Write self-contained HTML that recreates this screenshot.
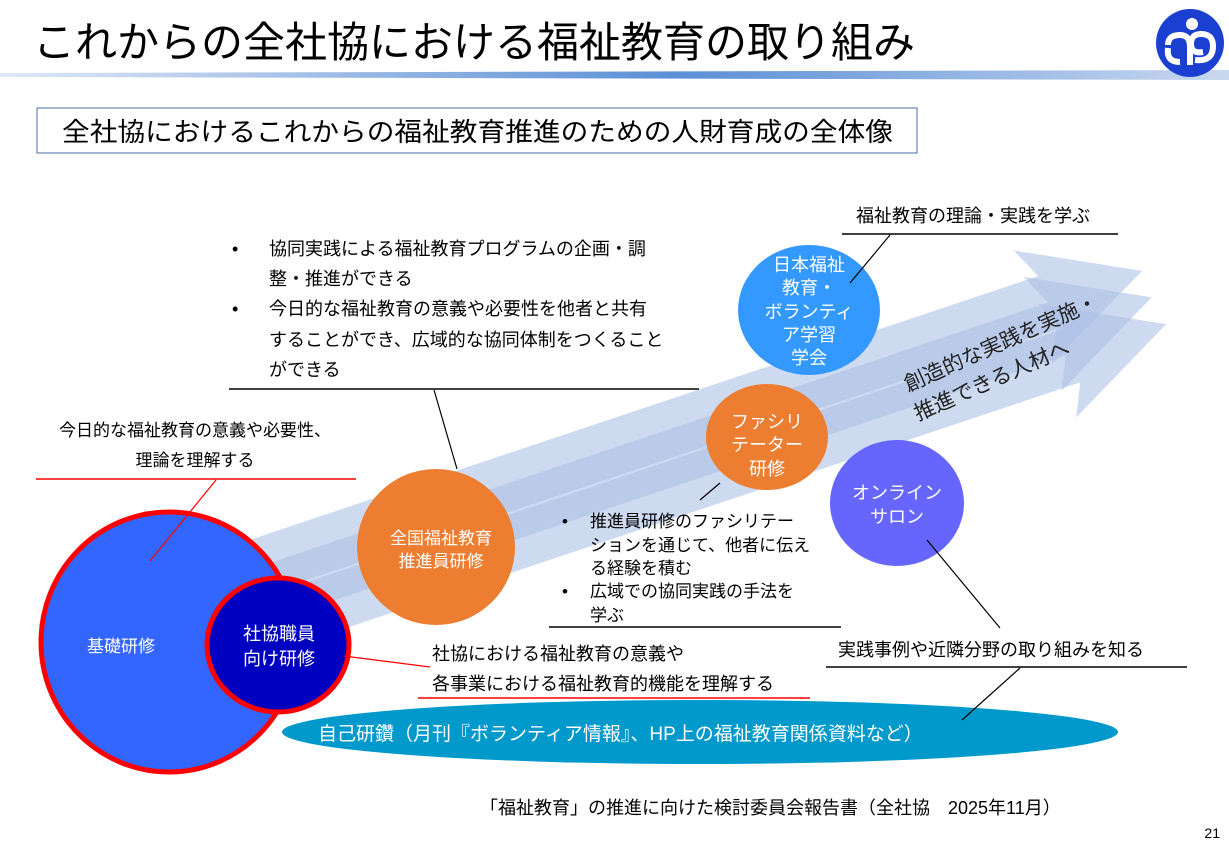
<!DOCTYPE html>
<html><head><meta charset="utf-8"><style>
html,body{margin:0;padding:0;background:#fff;}
svg{display:block;}
text{font-family:"Liberation Sans","Noto Sans CJK JP",sans-serif;}
</style></head><body>
<svg width="1229" height="856" viewBox="0 0 1229 856" xmlns="http://www.w3.org/2000/svg">
<defs>
<linearGradient id="tl" x1="0" x2="1" y1="0" y2="0">
<stop offset="0" stop-color="#dfe8f5"/><stop offset="0.55" stop-color="#5b8fd6"/><stop offset="1" stop-color="#c9d8ef"/>
</linearGradient>
</defs>
<text x="33" y="57" font-size="42" textLength="882" lengthAdjust="spacingAndGlyphs" fill="#000">これからの全社協における福祉教育の取り組み</text>
<polygon points="0,73 1229,70 1229,80 0,77" fill="url(#tl)"/>
<!-- logo -->
<circle cx="1190" cy="43" r="34" fill="#1a3fd1"/>
<circle cx="1192" cy="24" r="6" fill="#fff"/>
<path d="M1168 45 q0 -10 12 -10 q10 0 10 12 l0 18 M1168 48 q-2 14 12 14" stroke="#fff" stroke-width="6" fill="none"/>
<path d="M1195 60 q18 2 18 -14 q0 -12 -12 -12 q-10 0 -10 10 q0 10 12 8" stroke="#fff" stroke-width="6" fill="none"/>
<circle cx="1178" cy="52" r="3" fill="#1a3fd1"/>
<!-- subtitle -->
<rect x="37" y="108" width="880" height="45" fill="#fff" stroke="#4a6fa5" stroke-width="1"/>
<text x="62" y="141" font-size="26" textLength="831" lengthAdjust="spacingAndGlyphs">全社協におけるこれからの福祉教育推進のための人財育成の全体像</text>
<!-- arrows -->
<g fill="#aec2e6" fill-opacity="0.6">
<g transform="translate(260,566) rotate(-18.5)"><polygon points="0,-28 830,-28 815,-60 930,0 815,60 830,28 0,28"/></g>
<g transform="translate(265,594) rotate(-18.5)"><polygon points="0,-28 835,-28 820,-60 935,0 820,60 835,28 0,28"/></g>
<g transform="translate(270,624) rotate(-18.5)"><polygon points="0,-28 845,-28 830,-60 945,0 830,60 845,28 0,28"/></g>
</g>
<text transform="translate(908,392) rotate(-24)" font-size="21" fill="#222">創造的な実践を実施・</text>
<text transform="translate(918,421) rotate(-24)" font-size="21" fill="#222">推進できる人材へ</text>
<!-- cyan ellipse -->
<ellipse cx="700" cy="732" rx="418" ry="32" fill="#0099cc"/>
<text x="318" y="740" font-size="19" fill="#fff">自己研鑽（月刊『ボランティア情報』、HP上の福祉教育関係資料など）</text>
<!-- circles -->
<ellipse cx="169" cy="642" rx="128" ry="130" fill="#3366ff" stroke="#ff0000" stroke-width="5"/>
<text x="121" y="652" font-size="17" fill="#fff" text-anchor="middle">基礎研修</text>
<ellipse cx="278" cy="645" rx="71" ry="67" fill="#0000c0" stroke="#ff0000" stroke-width="5"/>
<text x="279" y="640" font-size="18" fill="#fff" text-anchor="middle">社協職員</text>
<text x="279" y="665" font-size="18" fill="#fff" text-anchor="middle">向け研修</text>
<ellipse cx="436" cy="547" rx="79" ry="78" fill="#ed7d31"/>
<text x="441" y="544" font-size="17" fill="#fff" text-anchor="middle">全国福祉教育</text>
<text x="441" y="567" font-size="17" fill="#fff" text-anchor="middle">推進員研修</text>
<ellipse cx="767" cy="437" rx="61" ry="53" fill="#ed7d31"/>
<text x="767" y="428" font-size="18" fill="#fff" text-anchor="middle">ファシリ</text>
<text x="767" y="451" font-size="18" fill="#fff" text-anchor="middle">テーター</text>
<text x="767" y="475" font-size="18" fill="#fff" text-anchor="middle">研修</text>
<ellipse cx="809" cy="310" rx="71" ry="65" fill="#3399ff"/>
<text x="809" y="271" font-size="18" fill="#fff" text-anchor="middle">日本福祉</text>
<text x="809" y="294" font-size="18" fill="#fff" text-anchor="middle">教育・</text>
<text x="809" y="318" font-size="18" fill="#fff" text-anchor="middle">ボランティ</text>
<text x="809" y="341" font-size="18" fill="#fff" text-anchor="middle">ア学習</text>
<text x="809" y="364" font-size="18" fill="#fff" text-anchor="middle">学会</text>
<ellipse cx="897" cy="503" rx="67" ry="63" fill="#6666ff"/>
<text x="897" y="499" font-size="18" fill="#fff" text-anchor="middle">オンライン</text>
<text x="897" y="523" font-size="18" fill="#fff" text-anchor="middle">サロン</text>
<!-- top annotations -->
<text x="856" y="222" font-size="18">福祉教育の理論・実践を学ぶ</text>
<line x1="842" y1="234" x2="1118" y2="234" stroke="#000" stroke-width="1.5"/>
<line x1="890" y1="235" x2="850" y2="283" stroke="#000" stroke-width="1.2"/>
<g font-size="18">
<text x="232" y="255">•</text><text x="269" y="255">協同実践による福祉教育プログラムの企画・調</text>
<text x="269" y="285">整・推進ができる</text>
<text x="232" y="315">•</text><text x="269" y="315">今日的な福祉教育の意義や必要性を他者と共有</text>
<text x="269" y="346">することができ、広域的な協同体制をつくること</text>
<text x="269" y="376">ができる</text>
</g>
<line x1="229" y1="389" x2="699" y2="389" stroke="#000" stroke-width="1.5"/>
<line x1="434" y1="390" x2="457" y2="469" stroke="#000" stroke-width="1.2"/>
<text x="195" y="436" font-size="17" text-anchor="middle">今日的な福祉教育の意義や必要性、</text>
<text x="195" y="466" font-size="17" text-anchor="middle">理論を理解する</text>
<line x1="36" y1="479" x2="356" y2="479" stroke="#ff0000" stroke-width="1.5"/>
<line x1="216" y1="480" x2="150" y2="561" stroke="#ff0000" stroke-width="1.2"/>
<g font-size="17">
<text x="562" y="527">•</text><text x="590" y="527">推進員研修のファシリテー</text>
<text x="590" y="551">ションを通じて、他者に伝え</text>
<text x="590" y="574">る経験を積む</text>
<text x="562" y="597">•</text><text x="590" y="597">広域での協同実践の手法を</text>
<text x="590" y="621">学ぶ</text>
</g>
<line x1="549" y1="627" x2="841" y2="627" stroke="#000" stroke-width="1.5"/>
<line x1="720" y1="483" x2="700" y2="500" stroke="#000" stroke-width="1.2"/>
<line x1="927" y1="540" x2="1000" y2="628" stroke="#000" stroke-width="1.2"/>
<text x="838" y="656" font-size="18">実践事例や近隣分野の取り組みを知る</text>
<line x1="826" y1="667" x2="1187" y2="667" stroke="#000" stroke-width="1.5"/>
<line x1="1020" y1="668" x2="962" y2="720" stroke="#000" stroke-width="1.2"/>
<text x="432" y="660" font-size="18">社協における福祉教育の意義や</text>
<text x="432" y="690" font-size="18">各事業における福祉教育的機能を理解する</text>
<line x1="418" y1="698" x2="810" y2="698" stroke="#ff0000" stroke-width="1.5"/>
<line x1="344" y1="656" x2="430" y2="667" stroke="#ff0000" stroke-width="1.2"/>
<text x="480" y="814" font-size="18">「福祉教育」の推進に向けた検討委員会報告書（全社協　2025年11月）</text>
<text x="1220" y="838" font-size="14" text-anchor="end">21</text>
</svg>
</body></html>
